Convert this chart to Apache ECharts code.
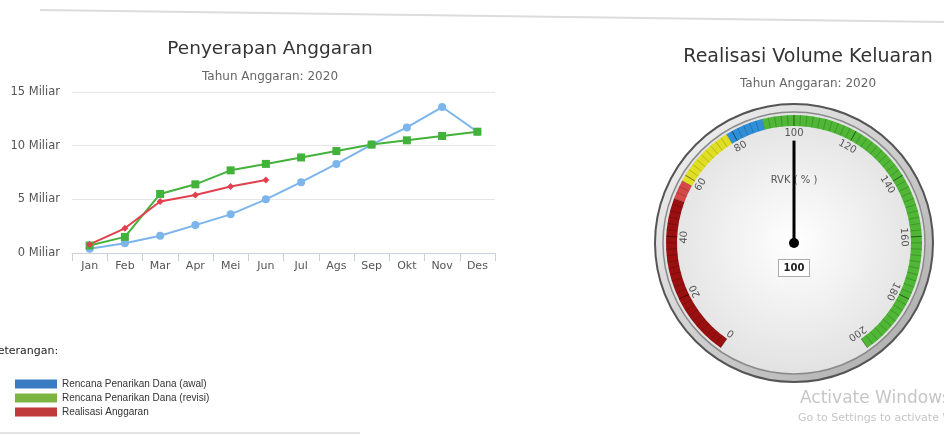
<!DOCTYPE html>
<html><head><meta charset="utf-8">
<script src="https://cdn.jsdelivr.net/npm/echarts@6/dist/echarts.min.js"></script>
<style>html,body{margin:0;padding:0;background:#fff}#c{width:944px;height:435px}</style>
</head><body><div id="c"></div>
<script>
// ---- data ----
const months = ['Jan','Feb','Mar','Apr','Mei','Jun','Jul','Ags','Sep','Okt','Nov','Des'];
const rencanaAwal = [0.4, 0.9, 1.6, 2.6, 3.6, 5.0, 6.6, 8.3, 10.1, 11.7, 13.6, 11.3];
const rencanaRevisi = [0.7, 1.5, 5.5, 6.4, 7.7, 8.3, 8.9, 9.5, 10.1, 10.5, 10.9, 11.3];
const realisasi = [0.8, 2.3, 4.8, 5.4, 6.2, 6.8];
const yTicks = [0, 5, 10, 15];
const seriesNames = ['Rencana Penarikan Dana (awal)', 'Rencana Penarikan Dana (revisi)', 'Realisasi Anggaran'];
const gaugeValue = 100;
const gaugeName = 'RVK ( % )';
const gaugeMin = 0, gaugeMax = 200;
const gaugeBands = [[52, '#9a1010'], [58, '#d44848'], [78, '#e0de22'], [90, '#2f8ed8'], [200, '#4fb636']];

// ---- layout ----
const GX = 794, GY = 243, R = 128;
const FONT = 'DejaVu Sans, Verdana, sans-serif';

const chart = echarts.init(document.getElementById('c'));
chart.setOption({
  animation: false,
  textStyle: { fontFamily: FONT },
  title: [
    { text: 'Penyerapan Anggaran', left: 265, textAlign: 'center', top: 35, textStyle: { fontSize: 18.5, fontWeight: 'normal', color: '#333', fontFamily: FONT } },
    { text: 'Tahun Anggaran: 2020', left: 265, textAlign: 'center', top: 66, textStyle: { fontSize: 12, fontWeight: 'normal', color: '#666', fontFamily: FONT } },
    { text: 'Realisasi Volume Keluaran', left: 803, textAlign: 'center', top: 43, textStyle: { fontSize: 19, fontWeight: 'normal', color: '#333', fontFamily: FONT } },
    { text: 'Tahun Anggaran: 2020', left: 803, textAlign: 'center', top: 73, textStyle: { fontSize: 12, fontWeight: 'normal', color: '#666', fontFamily: FONT } },
    { text: 'Activate Windows', left: 795, top: 385, textStyle: { fontSize: 17, fontWeight: 'normal', color: '#c6c6c6', fontFamily: FONT } },
    { text: 'Go to Settings to activate Windows.', left: 793, top: 408, textStyle: { fontSize: 11, fontWeight: 'normal', color: '#c6c6c6', fontFamily: FONT } }
  ],
  legend: {
    orient: 'vertical', left: 10, top: 374, itemWidth: 42, itemHeight: 9, itemGap: 4,
    icon: 'rect', selectedMode: false,
    textStyle: { fontSize: 10, color: '#333', fontFamily: 'Liberation Sans, Arial, sans-serif' },
    data: [
      { name: seriesNames[0], itemStyle: { color: '#3a7cc2' } },
      { name: seriesNames[1], itemStyle: { color: '#7cb441' } },
      { name: seriesNames[2], itemStyle: { color: '#c0393b' } }
    ]
  },
  graphic: [
    { type: 'text', x: -9, y: 346, style: { text: 'Keterangan:', fontSize: 11, fill: '#222', fontFamily: FONT } },
    { type: 'line', z: -10, shape: { x1: 40, y1: 10, x2: 944, y2: 22 }, style: { stroke: '#dcdcdc', lineWidth: 2 } },
    { type: 'line', z: -10, shape: { x1: 0, y1: 433, x2: 360, y2: 433 }, style: { stroke: '#e4e4e4', lineWidth: 2 } },
    { type: 'circle', z: -10, shape: { cx: GX, cy: GY, r: R + 11 },
      style: { fill: new echarts.graphic.LinearGradient(0, 0, 1, 1, [{ offset: 0, color: '#f6f6f6' }, { offset: 1, color: '#a8a8a8' }]), stroke: '#555', lineWidth: 2 } },
    { type: 'circle', z: -9, shape: { cx: GX, cy: GY, r: R + 3 },
      style: { fill: new echarts.graphic.RadialGradient(0.5, 0.5, 0.6, [{ offset: 0, color: '#ffffff' }, { offset: 1, color: '#dcdcdc' }]), stroke: '#8a8a8a', lineWidth: 1.5 } }
  ],
  grid: { left: 72, right: 449, top: 92, bottom: 182 },
  xAxis: {
    type: 'category', data: months, boundaryGap: true,
    axisLine: { lineStyle: { color: '#c8d0dc' } },
    axisTick: { show: true, length: 8, lineStyle: { color: '#c8d0dc' } },
    axisLabel: { fontSize: 11, color: '#555', margin: 8 }
  },
  yAxis: {
    type: 'value', min: 0, max: 15, interval: 5,
    axisLabel: { fontSize: 11.5, color: '#555', margin: 12, formatter: v => yTicks.includes(v) ? v + ' Miliar' : '' },
    splitLine: { lineStyle: { color: '#e6e6e6' } },
    axisLine: { show: false }, axisTick: { show: false }
  },
  series: [
    { name: seriesNames[0], type: 'line', data: rencanaAwal, symbol: 'circle', symbolSize: 8,
      itemStyle: { color: '#7cb5ec' }, lineStyle: { color: '#7cb5ec', width: 2 } },
    { name: seriesNames[1], type: 'line', data: rencanaRevisi, symbol: 'rect', symbolSize: 8,
      itemStyle: { color: '#43b23b' }, lineStyle: { color: '#43b23b', width: 2 } },
    { name: seriesNames[2], type: 'line', data: realisasi, symbol: 'diamond', symbolSize: 7,
      itemStyle: { color: '#e2404e' }, lineStyle: { color: '#e2404e', width: 2 } },
    { name: gaugeName, type: 'gauge', center: [GX, GY], radius: R,
      startAngle: 235, endAngle: -55, min: gaugeMin, max: gaugeMax, splitNumber: 10,
      axisLine: { lineStyle: { width: 11, color: gaugeBands.map(b => [b[0] / gaugeMax, b[1]]) } },
      axisTick: { show: true, splitNumber: 10, distance: -11, length: 11, lineStyle: { color: 'rgba(0,0,0,0.18)', width: 1 } },
      splitLine: { show: true, distance: -11, length: 11, lineStyle: { color: 'rgba(0,0,0,0.22)', width: 1 } },
      axisLabel: { distance: 18, fontSize: 10, color: '#555', rotate: 'tangential' },
      pointer: { icon: 'rect', width: 3, length: '80%', itemStyle: { color: '#000' } },
      anchor: { show: true, size: 10, itemStyle: { color: '#000' } },
      title: { offsetCenter: [0, -63], fontSize: 10, color: '#555' },
      detail: { offsetCenter: [0, 25], fontSize: 10, fontWeight: 'bold', color: '#222', backgroundColor: '#fff',
        borderColor: '#aaa', borderWidth: 1, width: 26, height: 14, lineHeight: 14, padding: [1, 2], formatter: '{value}' },
      data: [{ value: gaugeValue, name: gaugeName }]
    }
  ]
});
</script></body></html>
